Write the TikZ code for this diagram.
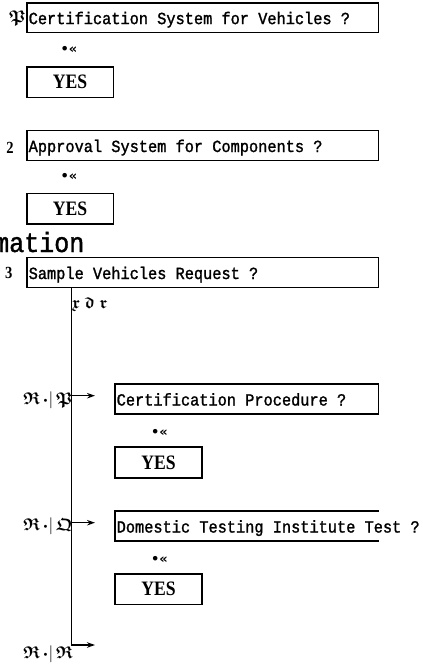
\documentclass[tikz,border=0pt]{standalone}
\usepackage{fontspec}
\usepackage{amsmath}
\usepackage{amssymb}
\usetikzlibrary{arrows.meta}
\newfontfamily\qfont[FakeStretch=0.9,FakeBold=1.4]{Liberation Mono}
\newfontfamily\yfont[FakeStretch=0.86]{Liberation Serif}
\newfontfamily\symfont{DejaVu Sans}
% one character cell of the monospaced box texts, used between words
\newcommand\sk{\hspace*{9.18pt}}
\newcommand\fr[1]{\boldsymbol{\mathfrak{#1}}}

\begin{document}
\begin{tikzpicture}[x=1pt,y=-1pt,
  frame/.style={draw, line width=1.6pt, outer sep=0pt},
  qbox/.style={frame, anchor=west, minimum height=29.8pt, inner xsep=2pt, inner ysep=0pt,
    text width=#1, align=left, text height=13pt, text depth=0pt,
    font=\qfont\fontsize{17}{18}\selectfont},
  ybox/.style={frame, minimum width=86.6pt, minimum height=30.6pt, inner sep=0pt,
    font=\yfont\bfseries\fontsize{20.5}{21}\selectfont},
  num/.style={inner sep=0pt, font=\yfont\bfseries\fontsize{17}{18}\selectfont},
  frak/.style={inner sep=0pt, font=\fontsize{17}{18}\selectfont},
  hint/.style={inner sep=0pt, font=\symfont\bfseries\fontsize{13}{14}\selectfont},
  flow/.style={line width=1.5pt},
  go/.style={flow, -{Stealth[length=8pt,width=5.5pt]}},
]
\useasboundingbox (0,0) rectangle (423,664);

% heading fragment, running off the left edge
\node[anchor=base west, inner sep=0pt, font=\qfont\fontsize{27.8}{30}\selectfont] (head) at (-6,252) {mation};

% question 1
\node[frak] (n1) at (17.5,18.5) {$\fr{P}$};
\node[qbox=347.8pt] (q1) at (26.7,17.6) {Certification\sk System\sk for\sk Vehicles\sk ?};
\node[hint] (h1) at (69,50) {•«};
\node[ybox] (y1) at (70,82) {YES};

% question 2
\node[num] (n2) at (10,148) {2};
\node[qbox=347.8pt] (q2) at (26.7,145.5) {Approval\sk System\sk for\sk Components\sk ?};
\node[hint] (h2) at (69,177) {•«};
\node[ybox] (y2) at (70,208.7) {YES};

% question 3
\node[num] (n3) at (8.7,273) {3};
\node[qbox=347.8pt] (q3) at (26.7,272.5) {Sample\sk Vehicles\sk Request\sk ?};
\node[frak, anchor=west] (opt) at (72,305) {$\fr{x}\;\fr{d}\;\fr{r}$};

% branch 3-1
\node[qbox=259.8pt] (q31) at (114.7,399) {Certification\sk Procedure\sk ?};
\node[hint] (h31) at (159.5,433) {•«};
\node[ybox] (y31) at (158.5,462.5) {YES};

% branch 3-2 (right side left open)
\node[qbox=259.8pt, draw=none] (q32) at (114.7,526) {\mbox{Domestic\sk Testing\sk Institute\sk Test\sk ?}};
\draw[line width=1.6pt] (q32.north east) -- (q32.north west) -- (q32.south west) -- (q32.south east);
\node[hint] (h32) at (159.5,560) {•«};
\node[ybox] (y32) at (158.5,589.2) {YES};

% trunk and branch arrows
\coordinate (trunk) at (71.3,645);
\coordinate (tip1) at (95,395.7);
\coordinate (tip2) at (95,522.7);
\coordinate (tip3) at (95,645);
\draw[go] (q3.south -| trunk) -- (trunk) -- (tip3);
\draw[go] (tip1 -| trunk) -- (tip1);
\draw[go] (tip2 -| trunk) -- (tip2);

% branch labels
\node[frak, anchor=east] (b1) at (73,400) {$\fr{R}$\,{\symfont\fontsize{10}{10}\selectfont •}|\,$\fr{P}$};
\node[frak, anchor=east] (b2) at (73,526) {$\fr{R}$\,{\symfont\fontsize{10}{10}\selectfont •}|\,$\fr{Q}$};
\node[frak, anchor=east] (b3) at (73,654) {$\fr{R}$\,{\symfont\fontsize{10}{10}\selectfont •}|\,$\fr{R}$};
\end{tikzpicture}
\end{document}
